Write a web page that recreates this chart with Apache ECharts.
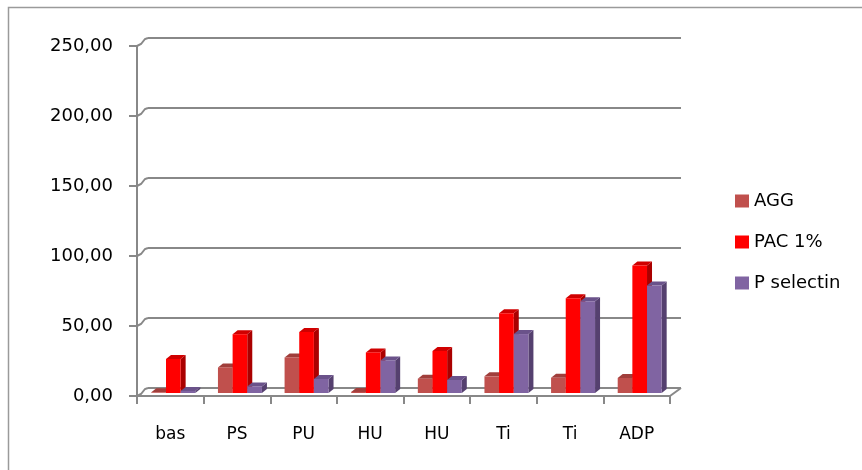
<!DOCTYPE html>
<html>
<head>
<meta charset="utf-8">
<script src="https://cdn.jsdelivr.net/npm/echarts@6/dist/echarts.min.js"></script>
<style>
  html, body { margin: 0; padding: 0; background: #fff; }
  #main { width: 862px; height: 470px; }
</style>
</head>
<body>
<div id="main"></div>
<script>
// categories and values
var categories = ["bas", "PS", "PU", "HU", "HU", "Ti", "Ti", "ADP"];
var aggValues = [0.5, 18.3, 25.4, 0.8, 10.2, 11.9, 10.9, 10.7];
var pacValues = [24.3, 42.0, 43.6, 29.0, 30.0, 56.9, 67.6, 91.0];
var pselValues = [1.5, 4.7, 10.0, 23.3, 9.3, 42.1, 65.5, 76.7];
var yTicks = [0, 50, 100, 150, 200, 250];
var seriesNames = ["AGG", "PAC 1%", "P selectin"];

// front, side, top face colours
var faceColors = [
    ["#C0504D", "#8E3432", "#A03E3B"],
    ["#FF0000", "#AA0000", "#D00000"],
    ["#8064A2", "#55406F", "#6A528A"]
];

var depthX = 11, depthY = -8;   // wall depth
var barDX = 5, barDY = -4;      // bar depth
var axisColor = "#888888";
var fontName = "DejaVu Sans";

function barRender(idx) {
    return function (params, api) {
        var i = api.value(0);
        var v = api.value(1);
        var base = api.coord([i, 0]);
        var top = api.coord([i, v]);
        var catW = api.size([1, 0])[0];
        var bw = catW * 0.22;
        var x0 = base[0] - 1.5 * bw + idx * bw + 3;
        var yb = base[1] - 3;
        var yt = top[1] - 3;
        var c = faceColors[idx];
        return {
            type: "group",
            children: [{
                type: "polygon",
                shape: { points: [[x0 + bw, yt], [x0 + bw + barDX, yt + barDY], [x0 + bw + barDX, yb + barDY], [x0 + bw, yb]] },
                style: { fill: c[1] }
            }, {
                type: "polygon",
                shape: { points: [[x0, yt], [x0 + barDX, yt + barDY], [x0 + bw + barDX, yt + barDY], [x0 + bw, yt]] },
                style: { fill: c[2] }
            }, {
                type: "rect",
                shape: { x: x0, y: yt, width: bw, height: yb - yt },
                style: { fill: c[0] }
            }]
        };
    };
}

// diagonal joins between the front axis ticks and the back gridlines
function wallRender(params, api) {
    var v = api.value(1);
    var p = api.coord([0, v]);
    var left = p[0] - api.size([1, 0])[0] / 2;
    var children = [{
        type: "polyline",
        shape: { points: [[left, p[1]], [left + 4, p[1] - 2], [left + 8, p[1] + depthY + 1], [left + depthX, p[1] + depthY]] },
        style: { stroke: axisColor, lineWidth: 2, fill: null }
    }];
    if (v === 0) {
        var r = api.coord([categories.length - 1, 0]);
        var right = r[0] + api.size([1, 0])[0] / 2;
        children.push({
            type: "line",
            shape: { x1: right, y1: p[1], x2: right + depthX, y2: p[1] + depthY },
            style: { stroke: axisColor, lineWidth: 2 }
        });
    }
    return { type: "group", children: children };
}

var chart = echarts.init(document.getElementById("main"));
var option = {
    animation: false,
    backgroundColor: "#ffffff",
    graphic: [{
        type: "polyline",
        shape: { points: [[8.5, 470], [8.5, 7.5], [862, 7.5]] },
        style: { stroke: "#9a9a9a", lineWidth: 1.5, fill: null },
        z: 0
    }],
    legend: {
        orient: "vertical",
        left: 730,
        top: 187,
        icon: "rect",
        itemWidth: 14,
        itemHeight: 13,
        itemGap: 23,
        data: seriesNames,
        textStyle: { fontFamily: fontName, fontSize: 18, color: "#000" }
    },
    grid: [
        { left: 137, right: 192, top: 46, bottom: 74 },
        { left: 148, right: 181, top: 38, bottom: 82 }
    ],
    xAxis: [{
        type: "category",
        gridIndex: 0,
        data: categories,
        axisLine: { lineStyle: { color: axisColor, width: 2 } },
        axisTick: { show: true, length: 8, lineStyle: { color: axisColor, width: 2 } },
        axisLabel: { margin: 30, color: "#000", fontFamily: fontName, fontSize: 17 },
        splitLine: { show: false }
    }, {
        type: "category",
        gridIndex: 1,
        data: categories,
        show: false
    }],
    yAxis: [{
        type: "value",
        gridIndex: 0,
        min: 0,
        max: 250,
        interval: 50,
        axisLine: { show: true, lineStyle: { color: axisColor, width: 2 } },
        axisTick: { show: true, length: 8, lineStyle: { color: axisColor, width: 2 } },
        axisLabel: {
            margin: 24,
            color: "#000",
            fontFamily: fontName,
            fontSize: 18,
            formatter: function (v) { return v.toFixed(2).replace(".", ","); }
        },
        splitLine: { show: false }
    }, {
        type: "value",
        gridIndex: 1,
        min: 0,
        max: 250,
        interval: 50,
        axisLine: { show: false },
        axisTick: { show: false },
        axisLabel: { show: false },
        splitLine: { show: true, lineStyle: { color: axisColor, width: 2 } }
    }],
    series: [{
        type: "custom",
        name: "wall",
        xAxisIndex: 0,
        yAxisIndex: 0,
        silent: true,
        renderItem: wallRender,
        encode: { x: 0, y: 1 },
        data: yTicks.map(function (t) { return [0, t]; })
    }, {
        type: "custom",
        name: seriesNames[0],
        itemStyle: { color: faceColors[0][0] },
        renderItem: barRender(0),
        encode: { x: 0, y: 1 },
        data: aggValues.map(function (v, i) { return [i, v]; })
    }, {
        type: "custom",
        name: seriesNames[1],
        itemStyle: { color: faceColors[1][0] },
        renderItem: barRender(1),
        encode: { x: 0, y: 1 },
        data: pacValues.map(function (v, i) { return [i, v]; })
    }, {
        type: "custom",
        name: seriesNames[2],
        itemStyle: { color: faceColors[2][0] },
        renderItem: barRender(2),
        encode: { x: 0, y: 1 },
        data: pselValues.map(function (v, i) { return [i, v]; })
    }]
};
chart.setOption(option);
</script>
</body>
</html>
